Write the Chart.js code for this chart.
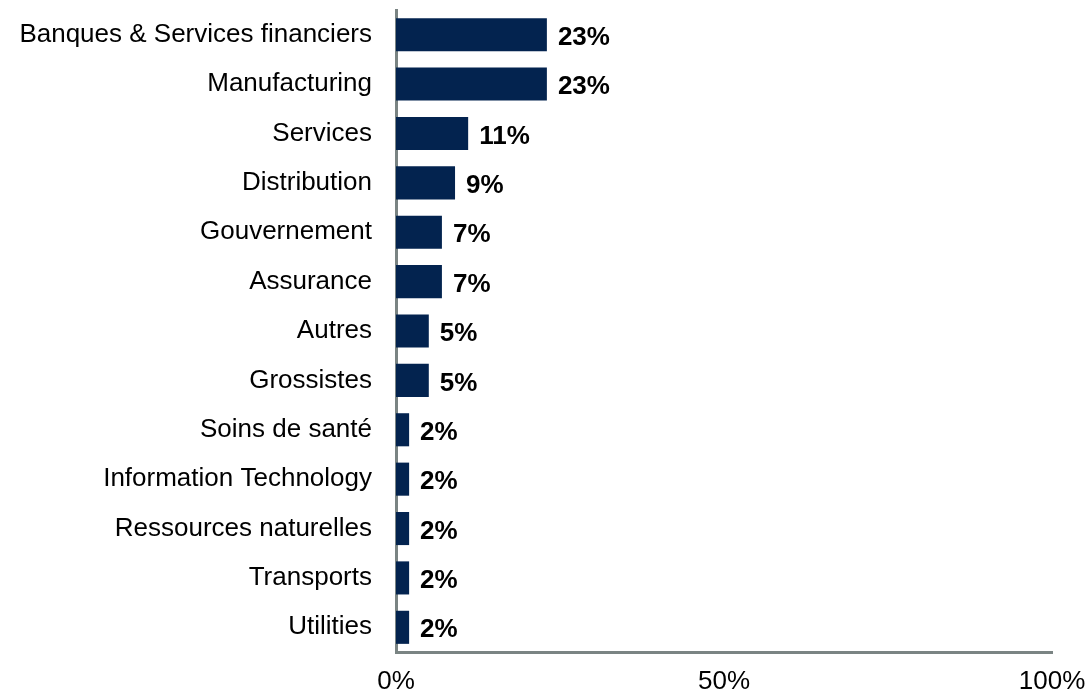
<!DOCTYPE html>
<html>
<head>
<meta charset="utf-8">
<script src="https://cdn.jsdelivr.net/npm/chart.js@4"></script>
<style>
  html, body { margin: 0; padding: 0; background: #fff; }
  #wrap { width: 1087px; height: 691px; position: relative; }
</style>
</head>
<body>
<div id="wrap"><canvas id="sectorBar"></canvas></div>
<script>
var categories = ['Banques & Services financiers', 'Manufacturing', 'Services', 'Distribution',
    'Gouvernement', 'Assurance', 'Autres', 'Grossistes', 'Soins de santé',
    'Information Technology', 'Ressources naturelles', 'Transports', 'Utilities'];
var shares = [23, 23, 11, 9, 7, 7, 5, 5, 2, 2, 2, 2, 2];
var xTicks = [0, 50, 100];

var fontFamily = '"Liberation Sans", Arial, sans-serif';

// draws the bold % value just right of each bar
var valueLabels = {
    id: 'valueLabels',
    afterDatasetsDraw: function (chart) {
        var c = chart.ctx;
        var meta = chart.getDatasetMeta(0);
        c.save();
        c.font = 'bold 26px ' + fontFamily;
        c.fillStyle = '#000';
        c.textAlign = 'left';
        c.textBaseline = 'middle';
        meta.data.forEach(function (bar, i) {
            c.fillText(shares[i] + '%', bar.x + 11, bar.y + 3);
        });
        c.restore();
    }
};

var ctx = document.getElementById('sectorBar').getContext('2d');
var myChart = new Chart(ctx, {
    type: 'bar',
    data: {
        labels: categories,
        datasets: [{
            data: shares,
            backgroundColor: '#03234f',
            borderWidth: 0,
            categoryPercentage: 0.67,
            barPercentage: 1
        }]
    },
    options: {
        indexAxis: 'y',
        responsive: true,
        maintainAspectRatio: false,
        animation: false,
        layout: { padding: { top: 10, right: 35, left: 0, bottom: 0 } },
        plugins: {
            legend: { display: false },
            tooltip: { enabled: false }
        },
        scales: {
            x: {
                min: 0,
                max: 100,
                afterBuildTicks: function (scale) {
                    scale.ticks = xTicks.map(function (v) { return { value: v }; });
                },
                grid: { display: false, drawTicks: false },
                border: { display: true, color: '#7a8483', width: 3 },
                ticks: {
                    padding: 14,
                    color: '#000',
                    font: { family: fontFamily, size: 26 },
                    callback: function (v) { return v + '%'; }
                },
                afterFit: function (scale) {
                    scale.height = 39;
                    scale.paddingLeft = 0;
                    scale.paddingRight = 0;
                }
            },
            y: {
                grid: { display: false, drawTicks: false },
                border: { display: true, color: '#7a8483', width: 3 },
                ticks: {
                    padding: 24,
                    color: '#000',
                    font: { family: fontFamily, size: 26 }
                },
                afterFit: function (scale) {
                    scale.width = 396;
                    scale.paddingTop = 0;
                    scale.paddingBottom = 0;
                }
            }
        }
    },
    plugins: [valueLabels]
});
</script>
</body>
</html>
